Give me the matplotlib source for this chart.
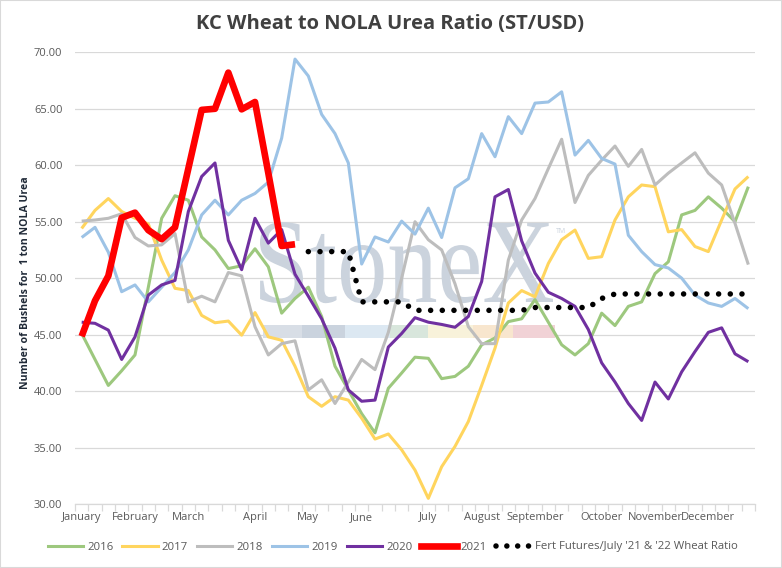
import matplotlib
matplotlib.use("Agg")
import matplotlib.pyplot as plt
from matplotlib.lines import Line2D
from matplotlib.patches import Rectangle, PathPatch
from matplotlib.textpath import TextPath
from matplotlib.font_manager import FontProperties
from matplotlib.transforms import Affine2D, IdentityTransform
import numpy as np

# ---------------- data ----------------
months = ["January", "February", "March", "April", "May", "June", "July",
          "August", "September", "October", "November", "December"]
month_pos = [0, 4, 8, 13, 17, 21, 26, 30, 34, 39, 43, 47]
n_weeks = 51

y2016 = [45.1, 42.8, 40.5, 41.8, 43.2, 49.2, 55.3, 57.3, 56.9, 53.65, 52.5, 50.85, 51.1, 52.6,
         51.0, 46.9, 48.2, 49.2, 46.6, 42.2, 40.1, 38.0, 36.3, 40.25, 41.6, 43.0, 42.9, 41.1,
         41.3, 42.2, 44.1, 44.7, 46.15, 46.4, 48.1, 46.1, 44.1, 43.2, 44.2, 46.9, 45.8, 47.5,
         47.9, 50.4, 51.45, 55.6, 56.0, 57.2, 56.2, 55.0, 58.1]
y2017 = [54.4, 56.0, 57.05, 55.9, 55.3, 54.8, 51.6, 49.1, 48.9, 46.7, 46.05, 46.2, 44.95, 46.95,
         44.8, 44.5, 42.2, 39.5, 38.65, 39.5, 39.2, 37.6, 35.75, 36.2, 34.8, 33.0, 30.5, 33.3,
         35.1, 37.3, 40.5, 43.8, 47.8, 48.9, 48.35, 51.3, 53.4, 54.26, 51.75, 51.9, 55.15, 57.2,
         58.25, 58.1, 54.1, 54.3, 52.8, 52.35, 55.15, 57.9, 59.0]
y2018 = [55.05, 55.15, 55.3, 55.7, 53.6, 52.85, 52.95, 53.95, 47.9, 48.4, 47.9, 50.5, 50.2, 45.7,
         43.2, 44.2, 44.45, 40.1, 41.0, 38.9, 40.8, 42.8, 41.9, 45.2, 50.0, 55.0, 53.4, 52.5,
         49.5, 45.7, 44.2, 44.2, 51.6, 55.15, 57.05, 59.7, 62.3, 56.7, 59.1, 60.45, 61.7, 59.9,
         61.4, 58.25, 59.3, 60.2, 61.1, 59.3, 58.25, 54.85, 51.2]
y2019 = [53.6, 54.5, 52.3, 48.8, 49.4, 47.9, 49.2, 50.5, 52.5, 55.6, 56.9, 55.6, 56.9, 57.5,
         58.5, 62.4, 69.4, 67.9, 64.5, 62.8, 60.2, 51.25, 53.65, 53.2, 55.05, 53.9, 56.2, 53.6,
         58.0, 58.8, 62.8, 60.75, 64.3, 62.8, 65.5, 65.6, 66.5, 60.9, 62.2, 60.6, 60.1, 53.8,
         52.35, 51.2, 50.9, 50.0, 48.5, 47.8, 47.5, 48.2, 47.3]
y2020 = [46.1, 46.0, 45.4, 42.8, 44.8, 48.5, 49.4, 49.8, 55.9, 59.0, 60.2, 53.35, 50.75, 55.3,
         53.1, 54.3, 50.35, 48.4, 46.4, 43.8, 40.1, 39.1, 39.2, 43.9, 45.1, 46.5, 46.1, 45.9,
         45.65, 46.6, 49.7, 57.2, 57.85, 53.3, 50.45, 48.75, 48.2, 47.5, 45.45, 42.5, 40.8, 38.9,
         37.4, 40.8, 39.3, 41.7, 43.5, 45.2, 45.6, 43.3, 42.6]
y2021 = [44.85, 48.0, 50.2, 55.35, 55.8, 54.25, 53.45, 54.5, 59.7, 64.9, 65.0, 68.2, 64.95,
         65.6, 59.3, 52.85, 53.0]
fert_start = 17
fert = [52.35, 52.35, 52.35, 52.35, 47.9, 47.9, 47.9, 47.9, 47.15, 47.15, 47.15, 47.15, 47.15,
        47.15, 47.15, 47.15, 47.15, 47.4, 47.4, 47.4, 47.4, 47.4, 48.2, 48.6, 48.6, 48.6, 48.6,
        48.6, 48.6, 48.6, 48.6, 48.6, 48.6, 48.6]

series = [("2016", y2016, "#9DC87E"), ("2017", y2017, "#FFD55E"), ("2018", y2018, "#BDBDBD"),
          ("2019", y2019, "#9DC3E6"), ("2020", y2020, "#7030A0")]
fert_label = "Fert Futures/July '21 & '22 Wheat Ratio"
yticks = [30, 35, 40, 45, 50, 55, 60, 65, 70]

# ---------------- figure ----------------
W, H = 782, 568
fig = plt.figure(figsize=(W / 100, H / 100), dpi=100)
ax = fig.add_axes([75 / W, 1 - 504 / H, 680 / W, (504 - 52.3) / H])

tick_font = "Open Sans"
thin = 2.2
dot_lw = 4.0
dot_style = (0, (0.001, 2.1))
for name, ys, col in series:
    ax.plot(np.arange(len(ys)), ys, color=col, lw=thin, solid_joinstyle="round",
            solid_capstyle="butt", zorder=3, label=name)
ax.plot(np.arange(len(y2021)), y2021, color="#FF0000", lw=4.8, solid_joinstyle="round",
        solid_capstyle="butt", zorder=4, label="2021")
fx = np.arange(fert_start, fert_start + len(fert))
ax.plot(fx, fert, color="black", lw=dot_lw, linestyle=dot_style,
        dash_capstyle="round", zorder=5, label=fert_label)

ax.set_xlim(-0.5, n_weeks - 0.5)
ax.set_ylim(30, 70)
ax.set_yticks(yticks)
ax.set_yticklabels([f"{v:.2f}" for v in yticks], fontsize=8, family=tick_font, color="#595959")
ax.set_xticks(month_pos)
ax.set_xticklabels(months, fontsize=8, family=tick_font, color="#595959")
ax.set_xticks(np.arange(-0.5, n_weeks, 1.0), minor=True)
ax.tick_params(axis="x", which="major", length=0, pad=6)
ax.tick_params(axis="x", which="minor", length=5, color="#D9D9D9", width=0.9)
ax.tick_params(axis="y", length=0, pad=9)
ax.grid(axis="y", color="#D9D9D9", lw=0.9, zorder=0)
ax.set_axisbelow(True)
for s in ["top", "right", "left"]:
    ax.spines[s].set_visible(False)
ax.spines["bottom"].set_color("#D9D9D9")
ax.spines["bottom"].set_linewidth(0.9)

ax.set_ylabel("Number of Bushels for  1 ton NOLA Urea", fontsize=7.6, family=tick_font,
              fontweight="bold", color="#1F2937")
ax.yaxis.set_label_coords((31 - 75) / 680, (504 - 282.5) / 451.7)

fig.text(390 / W, 1 - 24 / H, "KC Wheat to NOLA Urea Ratio (ST/USD)", ha="center", va="center",
         fontsize=14.5, family=tick_font, fontweight="bold", color="#404040")

# ---------------- watermark ----------------
tp = TextPath((0, 0), "StoneX", size=100, prop=FontProperties(family="Liberation Serif"))
ext = tp.get_extents()
sx = (553 - 260) / ext.width
sy = 80 / 66.2
tr = Affine2D().translate(-ext.x0, 0).scale(sx, sy).translate(260, H - 302)
wm = PathPatch(tr.transform_path(tp), transform=IdentityTransform(), facecolor="#CBD3DD",
               edgecolor="none", zorder=1)
ax.add_patch(wm)
ax.text(556 / W, 1 - 233 / H, "TM", transform=fig.transFigure, fontsize=5, color="#CBD3DD",
        family=tick_font, zorder=1)
strip_x = [263, 302, 345, 390, 428, 473, 513, 555]
strip_c = ["#D8DEE6", "#CAD3DE", "#DCE8F2", "#D8E6DC", "#F8F2DA", "#F8E6CE", "#F1D2D6"]
for i, c in enumerate(strip_c):
    ax.add_patch(Rectangle((strip_x[i], H - 338), strip_x[i + 1] - strip_x[i], 13,
                           transform=IdentityTransform(), facecolor=c, edgecolor="none",
                           zorder=1))

# ---------------- legend ----------------
handles = [Line2D([], [], color=c, lw=thin) for _, _, c in series]
handles.append(Line2D([], [], color="#FF0000", lw=4.8))
handles.append(Line2D([], [], color="black", lw=dot_lw, linestyle=(0, (0.001, 1.95)),
                      dash_capstyle="round"))
labels = [s[0] for s in series] + ["2021", fert_label]
leg = fig.legend(handles, labels, loc="center", bbox_to_anchor=(393 / W, 1 - 547 / H), ncol=7,
                 frameon=False, handlelength=3.1, handletextpad=0.35, columnspacing=0.8,
                 prop=FontProperties(family=tick_font, size=8.2))
for t in leg.get_texts():
    t.set_color("#595959")

fig.patches.append(Rectangle((0, 0), 1, 1, transform=fig.transFigure, fill=False,
                             edgecolor="#D9D9D9", lw=1.5))
fig.savefig("out.png", dpi=100)
